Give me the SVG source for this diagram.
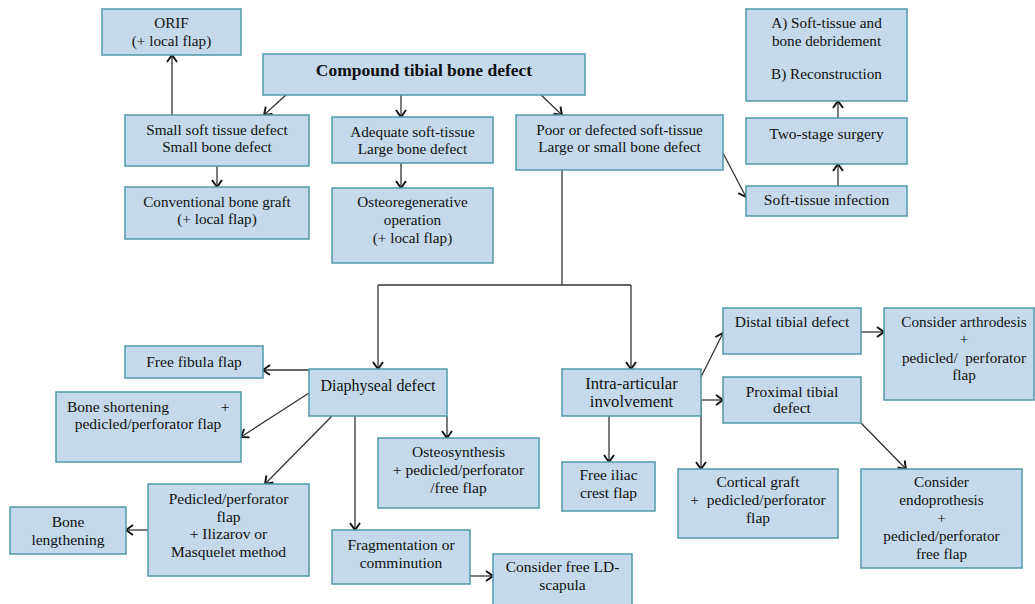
<svg xmlns="http://www.w3.org/2000/svg" width="1035" height="604" viewBox="0 0 1035 604">
<style>
.box{fill:#c5d9ec;stroke:#4f99aa;stroke-width:1.5}
text{font-family:"Liberation Serif","Times New Roman",serif;fill:#111;text-anchor:middle;font-size:15.2px}
.s15{font-size:15.5px}
.s16{font-size:16.7px}
.s14{font-size:15.2px}
.b{font-weight:bold;font-size:17.5px}
.c path{fill:none;stroke:#333;stroke-width:1.3}
</style>
<defs>
<marker id="ah" viewBox="-9 -7 11 14" markerWidth="11" markerHeight="14" markerUnits="userSpaceOnUse" orient="auto" refX="0" refY="0">
<path d="M-7,-5 L0,0 L-7,5" fill="none" stroke="#111" stroke-width="1.9"/>
</marker>
</defs>
<rect width="1035" height="604" fill="#fff"/>

<g class="c">
<path d="M287,94 L264,115" marker-end="url(#ah)"/>
<path d="M401,95 L401,117" marker-end="url(#ah)"/>
<path d="M539,93 L562,115" marker-end="url(#ah)"/>
<path d="M172,115 L172,55" marker-end="url(#ah)"/>
<path d="M217,166 L217,187" marker-end="url(#ah)"/>
<path d="M401,163 L401,188" marker-end="url(#ah)"/>
<path d="M723,153 L746,197" marker-end="url(#ah)"/>
<path d="M838,186 L838,164" marker-end="url(#ah)"/>
<path d="M838,118 L838,101" marker-end="url(#ah)"/>
<path d="M562,170 L562,285"/>
<path d="M378,285 L631,285"/>
<path d="M378,285 L378,369" marker-end="url(#ah)"/>
<path d="M631,285 L631,369" marker-end="url(#ah)"/>
<path d="M309,370 L263,370" marker-end="url(#ah)"/>
<path d="M309,393 L241,437" marker-end="url(#ah)"/>
<path d="M332,416 L265,484" marker-end="url(#ah)"/>
<path d="M355,416 L355,530" marker-end="url(#ah)"/>
<path d="M447,416 L447,438" marker-end="url(#ah)"/>
<path d="M148,530 L126,530" marker-end="url(#ah)"/>
<path d="M470,576 L493,576" marker-end="url(#ah)"/>
<path d="M609,416 L609,462" marker-end="url(#ah)"/>
<path d="M701,377 L723,333" marker-end="url(#ah)"/>
<path d="M701,400 L723,400" marker-end="url(#ah)"/>
<path d="M701,400 L701,469" marker-end="url(#ah)"/>
<path d="M861,332 L884,332" marker-end="url(#ah)"/>
<path d="M861,423 L906,469" marker-end="url(#ah)"/>
</g>

<g id="orif"><rect class="box" x="102" y="9" width="139" height="46"/>
<text x="171.5" y="28">ORIF</text><text x="171.5" y="46">(+ local flap)</text></g>

<g id="compound"><rect class="box" x="263" y="54" width="322" height="41"/>
<text class="b" x="424" y="76">Compound tibial bone defect</text></g>

<g id="small"><rect class="box" x="125" y="115" width="184" height="51"/>
<text x="217" y="135">Small soft tissue defect</text><text x="217" y="152">Small bone defect</text></g>

<g id="adequate"><rect class="box" x="332" y="117" width="161" height="46"/>
<text x="412.5" y="137">Adequate soft-tissue</text><text x="412.5" y="154">Large bone defect</text></g>

<g id="poor"><rect class="box" x="516" y="115" width="207" height="55"/>
<text x="619.5" y="135">Poor or defected soft-tissue</text><text x="619.5" y="152">Large or small bone defect</text></g>

<g id="conventional"><rect class="box" x="125" y="187" width="184" height="52"/>
<text x="217" y="207">Conventional bone graft</text><text x="217" y="224">(+ local flap)</text></g>

<g id="osteoregen"><rect class="box" x="332" y="188" width="161" height="75"/>
<text x="412.5" y="207">Osteoregenerative</text><text x="412.5" y="225">operation</text><text x="412.5" y="243">(+ local flap)</text></g>

<g id="stages"><rect class="box" x="746" y="9" width="161" height="92"/>
<text x="826.5" y="28">A) Soft-tissue and</text><text x="826.5" y="46">bone debridement</text><text x="826.5" y="79">B) Reconstruction</text></g>

<g id="twostage"><rect class="box" x="746" y="118" width="161" height="46"/>
<text class="s15" x="826.5" y="139">Two-stage surgery</text></g>

<g id="infection"><rect class="box" x="746" y="186" width="161" height="30"/>
<text class="s15" x="826.5" y="205">Soft-tissue infection</text></g>

<g id="fibula"><rect class="box" x="125" y="346" width="138" height="32"/>
<text class="s15" x="194" y="367">Free fibula flap</text></g>

<g id="diaphyseal"><rect class="box" x="309" y="369" width="138" height="47"/>
<text class="s15" x="378" y="391" style="font-size:16px">Diaphyseal defect</text></g>

<g id="shortening"><rect class="box" x="56" y="392" width="185" height="70"/>
<text class="s15" x="67" y="412" style="text-anchor:start">Bone shortening</text><text class="s15" x="225" y="412">+</text>
<text class="s15" x="148" y="429">pedicled/perforator flap</text></g>

<g id="osteosynthesis"><rect class="box" x="378" y="438" width="161" height="70"/>
<text class="s15" x="458.5" y="457">Osteosynthesis</text><text class="s15" x="458.5" y="475">+ pedicled/perforator</text><text class="s15" x="458.5" y="493">/free flap</text></g>

<g id="pedicled"><rect class="box" x="148" y="484" width="161" height="92"/>
<text class="s15" x="228.5" y="504">Pedicled/perforator</text><text class="s15" x="228.5" y="522">flap</text><text class="s15" x="228.5" y="539">+ Ilizarov or</text><text class="s15" x="228.5" y="557">Masquelet method</text></g>

<g id="lengthening"><rect class="box" x="10" y="507" width="116" height="47"/>
<text class="s15" x="68" y="527">Bone</text><text class="s15" x="68" y="545">lengthening</text></g>

<g id="fragmentation"><rect class="box" x="332" y="530" width="138" height="54"/>
<text class="s15" x="401" y="550">Fragmentation or</text><text class="s15" x="401" y="568">comminution</text></g>

<g id="ldscapula"><rect class="box" x="493" y="554" width="139" height="60"/>
<text class="s15" x="562.5" y="572">Consider free LD-</text><text class="s15" x="562.5" y="590">scapula</text></g>

<g id="intra"><rect class="box" x="562" y="369" width="139" height="47"/>
<text class="s16" x="631.5" y="389">Intra-articular</text><text class="s16" x="631.5" y="407">involvement</text></g>

<g id="iliac"><rect class="box" x="562" y="462" width="93" height="49"/>
<text class="s15" x="608.5" y="480">Free iliac</text><text class="s15" x="608.5" y="498">crest flap</text></g>

<g id="distal"><rect class="box" x="723" y="308" width="138" height="46"/>
<text class="s15" x="792" y="327">Distal tibial defect</text></g>

<g id="arthrodesis"><rect class="box" x="884" y="308" width="150" height="92"/>
<text class="s14" x="964" y="327">Consider arthrodesis</text><text class="s14" x="964" y="344">+</text><text class="s14" x="964" y="363" style="white-space:pre">pedicled/  perforator</text><text class="s14" x="964" y="380">flap</text></g>

<g id="proximal"><rect class="box" x="723" y="377" width="138" height="46"/>
<text class="s15" x="792" y="397">Proximal tibial</text><text class="s15" x="792" y="413">defect</text></g>

<g id="cortical"><rect class="box" x="678" y="469" width="160" height="69"/>
<text class="s15" x="758" y="487">Cortical graft</text><text class="s15" x="758" y="505" style="white-space:pre">+  pedicled/perforator</text><text class="s15" x="758" y="523">flap</text></g>

<g id="endoprothesis"><rect class="box" x="861" y="469" width="161" height="99"/>
<text class="s14" x="941.5" y="487">Consider</text><text class="s14" x="941.5" y="505">endoprothesis</text><text class="s14" x="941.5" y="523">+</text><text class="s14" x="941.5" y="541">pedicled/perforator</text><text class="s14" x="941.5" y="559">free flap</text></g>
</svg>
